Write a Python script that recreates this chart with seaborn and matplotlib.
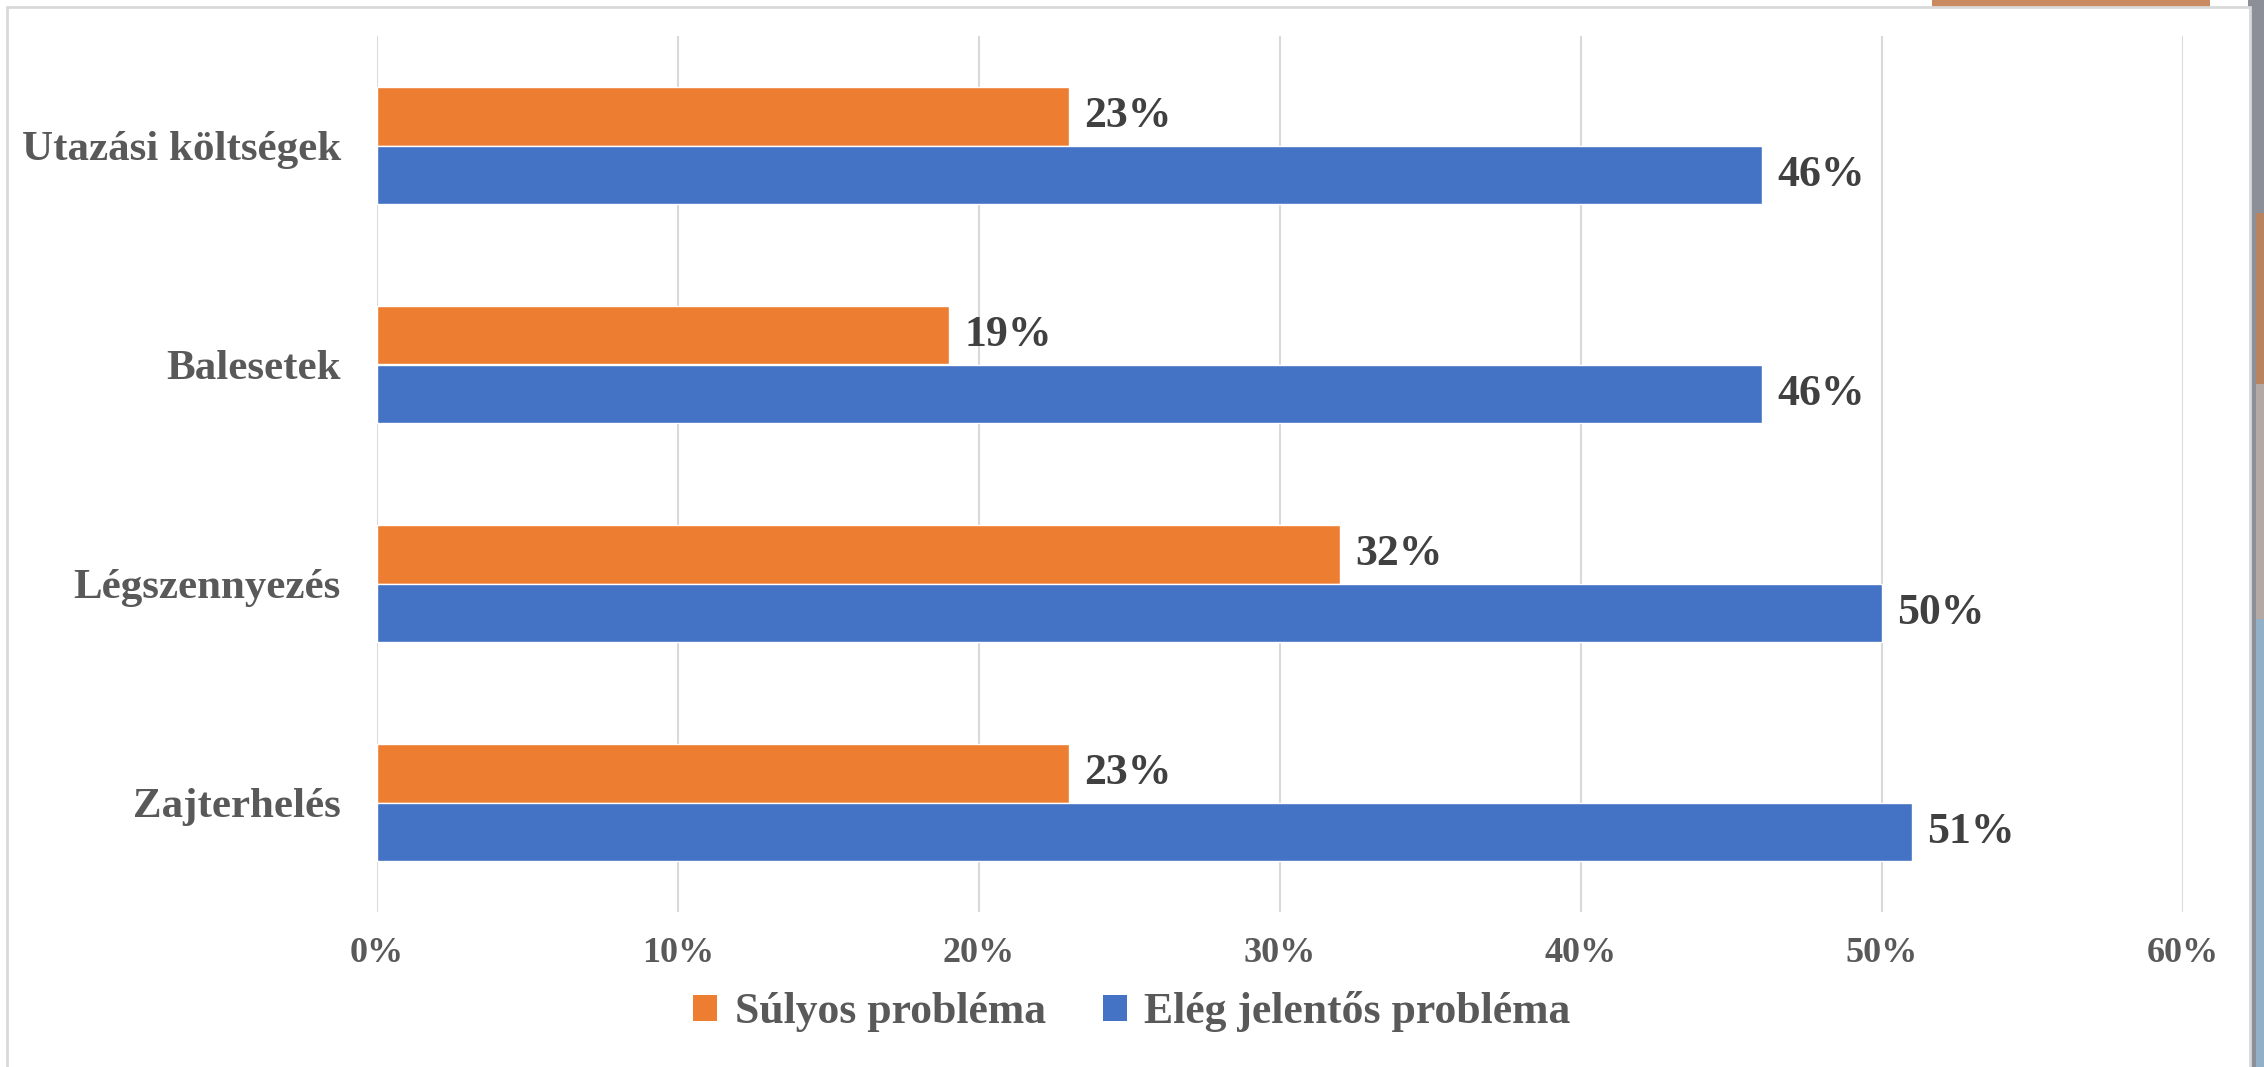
import matplotlib
matplotlib.use("Agg")
import matplotlib.pyplot as plt
from matplotlib.patches import Rectangle
import seaborn as sns
import pandas as pd

categories = ["Utazási költségek", "Balesetek", "Légszennyezés", "Zajterhelés"]
series_names = ["Súlyos probléma", "Elég jelentős probléma"]
sulyos = [23, 19, 32, 23]
eleg_jelentos = [46, 46, 50, 51]
x_ticks = [0, 10, 20, 30, 40, 50, 60]

colors = ["#ED7D31", "#4472C4"]
grey_text = "#595959"
dark_text = "#404040"

df = pd.DataFrame({
    "kategoria": categories * 2,
    "sorozat": [series_names[0]] * len(categories) + [series_names[1]] * len(categories),
    "ertek": sulyos + eleg_jelentos,
})

sns.set_theme(style="white")
plt.rcParams["font.family"] = ["Liberation Serif", "DejaVu Serif"]
plt.rcParams["font.weight"] = "bold"

W, H = 2264, 1067
fig = plt.figure(figsize=(W / 100, H / 100), dpi=100, facecolor="white")

# slide background bits peeking out at the right / top
fig.patches.append(Rectangle((2248 / W, 0), 16 / W, 1, transform=fig.transFigure,
                             facecolor="#8d8f98", edgecolor="none", zorder=0))
fig.patches.append(Rectangle((2256 / W, 0), 8 / W, 0.42, transform=fig.transFigure,
                             facecolor="#93b0c9", edgecolor="none", zorder=0))
fig.patches.append(Rectangle((2256 / W, 0.42), 8 / W, 0.22, transform=fig.transFigure,
                             facecolor="#b5a9a5", edgecolor="none", zorder=0))
fig.patches.append(Rectangle((2256 / W, 0.64), 8 / W, 0.16, transform=fig.transFigure,
                             facecolor="#b9835f", edgecolor="none", zorder=0))
fig.patches.append(Rectangle((1932 / W, 1 - 7 / H), 278 / W, 7 / H, transform=fig.transFigure,
                             facecolor="#c98a62", edgecolor="none", zorder=0))
# chart frame
fig.patches.append(Rectangle((7 / W, -0.01), 2243 / W, 1 - 7 / H + 0.01, transform=fig.transFigure,
                             facecolor="white", edgecolor="#d9d9d9", linewidth=2, zorder=1))

ax = fig.add_axes([377 / W, 1 - 912 / H, (2183 - 377) / W, (912 - 36) / H])
ax.set_zorder(2)
ax.patch.set_alpha(0)

sns.barplot(data=df, y="kategoria", x="ertek", hue="sorozat", orient="h",
            order=categories, hue_order=series_names, palette=colors,
            width=0.53, gap=0, saturation=1, ax=ax, legend=False)

for cont in ax.containers:
    ax.bar_label(cont, labels=[f"{v:.0f}%" for v in cont.datavalues], padding=11,
                 fontsize=31.5, fontweight="bold", color=dark_text)

ax.set_xlim(0, 60)
ax.set_ylim(3.5, -0.5)
ax.set_xticks(x_ticks)
ax.set_xticklabels([f"{t}%" for t in x_ticks])
ax.set_xlabel("")
ax.set_ylabel("")
ax.grid(axis="x", color="#d9d9d9", linewidth=1.5)
ax.set_axisbelow(True)
for s in ax.spines.values():
    s.set_visible(False)
ax.tick_params(axis="x", length=0, pad=18, labelsize=26, labelcolor=grey_text)
ax.tick_params(axis="y", length=0, pad=26, labelsize=31, labelcolor=grey_text)
for lab in ax.get_xticklabels() + ax.get_yticklabels():
    lab.set_fontweight("bold")

handles = [Rectangle((0, 0), 1, 1, facecolor=c, edgecolor="none") for c in colors]
leg = fig.legend(handles, series_names, loc="center", bbox_to_anchor=(0.5, 1 - 1012 / H),
                 ncol=2, frameon=False, handlelength=0.55, handleheight=0.55,
                 handletextpad=0.4, columnspacing=1.3,
                 prop={"family": ["Liberation Serif", "DejaVu Serif"], "weight": "bold", "size": 31.5})
for t in leg.get_texts():
    t.set_color(grey_text)

fig.savefig("out.png", dpi=100, facecolor=fig.get_facecolor())
